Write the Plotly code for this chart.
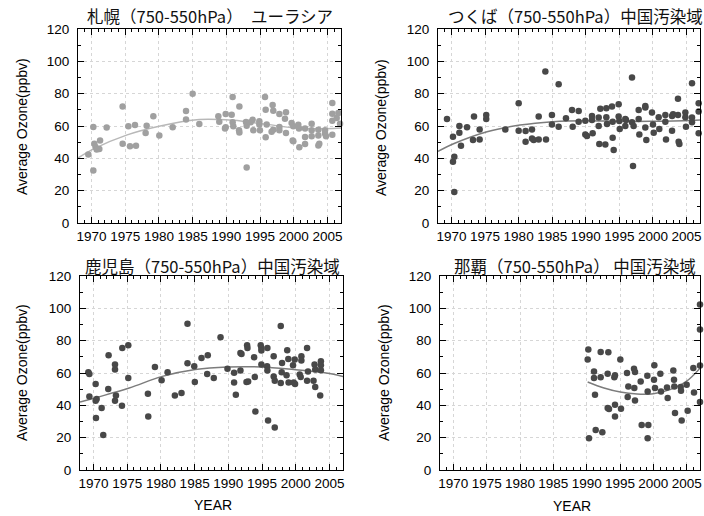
import plotly.graph_objects as go

# ---------------- data ----------------
titles = ["札幌（750-550hPa）　ユーラシア",
          "つくば（750-550hPa）中国汚染域",
          "鹿児島（750-550hPa）中国汚染域",
          "那覇（750-550hPa） 中国汚染域"]

year_ticks = [1970, 1975, 1980, 1985, 1990, 1995, 2000, 2005]
ozone_ticks = [0, 20, 40, 60, 80, 100, 120]

sapporo_year = [1969.53, 1970.27, 1970.27, 1970.42, 1970.6, 1970.77, 1971.16, 1971.27, 1972.25, 1974.62,
                1974.62, 1975.47, 1975.71, 1976.45, 1976.6, 1978.03, 1978.18, 1979.17, 1980.06, 1982.04,
                1984.02, 1984.02, 1985.0, 1985.99, 1988.81, 1988.95, 1989.9, 1989.9, 1989.8, 1990.79,
                1990.93, 1990.93, 1991.03, 1991.93, 1991.88, 1991.93, 1992.91, 1993.01, 1993.01, 1993.6,
                1993.9, 1994.0, 1994.89, 1994.89, 1994.98, 1995.73, 1995.83, 1995.83, 1995.98, 1996.71,
                1996.86, 1996.96, 1996.96, 1997.86, 1997.86, 1997.86, 1998.69, 1998.84, 1998.84, 1999.68,
                1999.83, 1999.93, 1999.93, 2000.67, 2000.77, 2000.82, 2001.67, 2001.67, 2001.67, 2002.65,
                2002.65, 2002.65, 2003.64, 2003.64, 2003.64, 2003.78, 2004.63, 2004.63, 2004.78, 2005.71,
                2005.71, 2005.71, 2005.71, 2006.36, 2006.61, 2006.86]
sapporo_o3 = [42.3, 59.4, 32.4, 49.0, 47.0, 45.5, 45.8, 51.0, 59.0, 72.0,
              49.0, 59.8, 47.4, 60.6, 47.8, 55.7, 60.2, 66.0, 54.2, 59.2,
              69.3, 64.0, 80.0, 61.2, 66.0, 62.7, 67.4, 59.2, 58.5, 67.0,
              78.0, 62.3, 59.8, 72.0, 57.3, 56.0, 62.5, 60.2, 34.4, 62.3,
              63.9, 57.3, 61.0, 63.0, 57.3, 78.0, 70.0, 53.0, 61.0, 56.5,
              73.0, 69.5, 57.7, 67.4, 59.4, 57.3, 64.5, 68.5, 55.7, 61.9,
              51.0, 50.5, 59.8, 60.8, 58.4, 46.8, 58.4, 53.2, 48.9, 61.4,
              57.3, 53.6, 57.7, 54.2, 48.0, 49.0, 57.3, 55.3, 53.6, 74.2,
              67.6, 63.3, 54.6, 65.0, 68.0, 61.4]
sapporo_fit_year = [1968, 1970.4, 1975.3, 1980.2, 1986.0, 1991.0, 1996.0, 2001.0, 2005.9, 2007]
sapporo_fit = [40.2, 46.0, 54.5, 60.0, 64.0, 63.5, 61.0, 58.5, 58.5, 58.8]

tsukuba_year = [1969.34, 1970.23, 1970.23, 1970.43, 1970.43, 1971.18, 1971.18, 1971.42, 1972.32, 1973.21,
                1973.36, 1974.2, 1974.2, 1975.18, 1975.18, 1978.02, 1980.01, 1980.01, 1981.04, 1981.04,
                1981.99, 1981.99, 1982.24, 1982.99, 1982.99, 1983.98, 1984.08, 1984.96, 1984.96, 1985.96,
                1985.96, 1987.05, 1987.95, 1988.05, 1988.94, 1988.94, 1989.93, 1989.93, 1990.18, 1990.92,
                1990.92, 1991.02, 1991.92, 1991.92, 1992.01, 1992.16, 1992.91, 1993.06, 1993.06, 1993.16,
                1993.9, 1994.0, 1994.0, 1994.15, 1994.89, 1994.89, 1994.99, 1995.05, 1995.88, 1995.88,
                1995.98, 1996.88, 1996.88, 1997.03, 1997.12, 1997.87, 1997.87, 1997.97, 1998.86, 1998.86,
                1998.86, 1999.01, 1999.85, 2000.0, 2000.11, 2000.85, 2000.94, 2001.84, 2001.84, 2001.94,
                2002.84, 2002.84, 2002.99, 2003.72, 2003.72, 2003.82, 2003.93, 2004.82, 2004.82, 2004.91,
                2005.81, 2005.81, 2005.81, 2006.8, 2006.8, 2006.8]
tsukuba_o3 = [64.3, 53.4, 37.9, 41.0, 19.2, 60.0, 55.9, 47.8, 59.2, 51.3,
              65.8, 57.9, 51.7, 66.8, 64.3, 57.9, 74.0, 57.1, 56.9, 50.3,
              57.9, 52.3, 51.3, 65.8, 51.7, 93.7, 51.7, 66.8, 61.0, 85.9,
              59.6, 64.8, 69.9, 59.6, 69.3, 62.7, 63.3, 54.8, 53.8, 66.2,
              63.7, 55.5, 65.2, 60.0, 48.8, 70.6, 48.6, 71.0, 65.4, 61.2,
              72.0, 62.7, 52.8, 45.1, 73.5, 65.8, 63.1, 58.1, 64.3, 60.0,
              63.7, 90.0, 62.3, 35.2, 60.0, 69.9, 64.3, 54.8, 72.4, 71.4,
              59.0, 51.3, 68.3, 61.0, 55.9, 65.4, 58.1, 66.8, 62.7, 51.7,
              66.2, 57.1, 67.2, 76.8, 66.8, 50.3, 48.8, 68.3, 65.4, 59.6,
              86.5, 65.2, 62.3, 74.0, 68.9, 55.5]
tsukuba_fit_year = [1968, 1970.4, 1975.3, 1980.2, 1985.1, 1989.9, 1994.8, 1999.7, 2004.6, 2007]
tsukuba_fit = [44.3, 49.2, 56.5, 60.6, 62.7, 63.3, 62.9, 62.9, 63.3, 63.7]

kagoshima_year = [1969.24, 1969.39, 1969.39, 1970.32, 1970.32, 1970.47, 1970.37, 1971.21, 1971.45, 1972.24,
                  1972.19, 1973.19, 1973.19, 1973.19, 1973.33, 1974.27, 1974.22, 1975.16, 1975.16, 1978.07,
                  1978.12, 1979.11, 1980.1, 1980.99, 1982.07, 1983.05, 1983.94, 1983.94, 1984.94, 1985.03,
                  1986.02, 1986.95, 1986.86, 1987.84, 1988.84, 1989.87, 1990.85, 1990.85, 1991.11, 1991.79,
                  1991.95, 1991.79, 1992.78, 1992.83, 1992.69, 1992.93, 1993.82, 1993.92, 1994.01, 1994.8,
                  1994.9, 1994.9, 1994.9, 1995.79, 1995.74, 1995.79, 1995.89, 1996.72, 1996.72, 1996.88,
                  1996.88, 1997.77, 1997.77, 1997.91, 1997.96, 1998.63, 1998.73, 1998.89, 1998.93, 1999.59,
                  1999.69, 1999.84, 1999.89, 2000.58, 2000.73, 2000.83, 2000.83, 2001.67, 2001.67, 2001.81,
                  2002.63, 2002.78, 2002.88, 2002.88, 2003.72, 2003.72, 2003.72, 2003.62]
kagoshima_o3 = [60.4, 59.4, 45.5, 53.2, 42.8, 43.9, 32.1, 38.3, 21.7, 71.0,
                50.1, 62.1, 65.2, 42.8, 46.1, 75.5, 39.7, 77.2, 56.9, 47.2,
                33.1, 63.7, 55.5, 60.4, 46.1, 47.6, 90.4, 66.0, 64.1, 54.4,
                69.3, 71.0, 59.4, 56.9, 82.1, 62.7, 60.2, 54.2, 46.6, 72.4,
                71.8, 61.5, 77.2, 75.5, 54.4, 54.8, 69.7, 57.5, 36.2, 77.2,
                75.5, 73.9, 65.2, 75.5, 64.1, 61.5, 30.6, 70.3, 57.9, 55.2,
                26.3, 89.0, 53.8, 60.4, 66.2, 58.6, 74.1, 68.7, 54.2, 64.8,
                54.2, 68.3, 53.2, 59.0, 57.5, 70.3, 67.7, 75.5, 55.2, 61.0,
                55.2, 65.2, 62.1, 51.3, 67.2, 64.8, 61.7, 46.1]
kagoshima_fit_year = [1968, 1970.5, 1975.3, 1980.2, 1985.1, 1989.9, 1994.8, 1999.7, 2004.5, 2007]
kagoshima_fit = [42.0, 44.9, 50.7, 57.9, 62.1, 63.7, 63.7, 62.1, 60.0, 57.9]

naha_year = [1990.15, 1990.25, 1990.35, 1991.1, 1991.1, 1991.25, 1991.35, 1992.1, 1992.1, 1992.35,
             1993.25, 1993.15, 1993.15, 1993.35, 1994.15, 1994.25, 1994.25, 1994.25, 1995.05, 1995.15,
             1996.05, 1996.25, 1996.15, 1997.1, 1997.25, 1997.15, 1997.25, 1998.1, 1998.25, 1999.1,
             1999.15, 1999.25, 1999.15, 2000.1, 2000.15, 2000.25, 2001.05, 2001.15, 2002.05, 2002.15,
             2003.0, 2003.1, 2003.15, 2003.25, 2004.1, 2004.15, 2004.25, 2005.0, 2005.15, 2006.0,
             2006.1, 2007.0, 2007.0, 2007.0, 2007.0]
naha_o3 = [68.3, 74.5, 19.7, 61.0, 56.9, 46.6, 24.8, 73.0, 57.3, 23.4,
           72.8, 59.6, 38.3, 37.7, 57.3, 58.6, 40.3, 33.1, 68.3, 37.9,
           60.0, 51.7, 45.1, 62.7, 60.6, 50.7, 43.0, 54.8, 27.9, 58.3,
           48.6, 27.9, 19.7, 55.9, 64.8, 50.7, 59.6, 48.6, 51.1, 44.5,
           61.5, 55.9, 51.7, 35.2, 51.3, 49.0, 30.6, 52.8, 36.6, 63.1,
           48.0, 102.4, 86.9, 64.6, 42.0]
naha_fit_year = [1990.15, 1992.6, 1995.05, 1997.55, 2000.0, 2002.5, 2004.95, 2007]
naha_fit = [54.4, 50.7, 48.2, 47.0, 47.2, 49.7, 54.8, 63.0]

# ---------------- layout ----------------
W, H = 704, 516
# plot boxes in pixels: (left, right, top, bottom)
boxes = [(78, 341, 29, 223), (438, 700, 29, 223), (80, 343, 276, 470), (440, 700, 276, 470)]
title_pos = [(210, 16), (575, 16), (212, 265.5), (575, 265.5)]
ylab_pos = [(22, 127), (381, 127), (22, 373), (384, 373)]
year_pos = [(213, 505), (572, 506)]

panels = [
    (sapporo_year, sapporo_o3, sapporo_fit_year, sapporo_fit, "#a0a0a0", "#b8b8b8"),
    (tsukuba_year, tsukuba_o3, tsukuba_fit_year, tsukuba_fit, "#484848", "#7c7c7c"),
    (kagoshima_year, kagoshima_o3, kagoshima_fit_year, kagoshima_fit, "#484848", "#7c7c7c"),
    (naha_year, naha_o3, naha_fit_year, naha_fit, "#484848", "#7c7c7c"),
]

FONT = "Liberation Sans, Arial, sans-serif"
fig = go.Figure()
layout = dict(width=W, height=H, margin=dict(l=0, r=0, t=0, b=0, autoexpand=False),
              paper_bgcolor="white", plot_bgcolor="white", showlegend=False,
              font=dict(family=FONT, color="black"))
annotations = []
for i, (xs, ys, fx, fy, mcol, lcol) in enumerate(panels):
    n = "" if i == 0 else str(i + 1)
    l, r, t, b = boxes[i]
    fig.add_trace(go.Scatter(x=fx, y=fy, mode="lines", line=dict(color=lcol, width=1.5, shape="spline"),
                             xaxis="x" + n, yaxis="y" + n, hoverinfo="skip"))
    fig.add_trace(go.Scatter(x=xs, y=ys, mode="markers", cliponaxis=False,
                             marker=dict(color=mcol, size=6.5, line=dict(width=0)),
                             xaxis="x" + n, yaxis="y" + n))
    common = dict(showline=True, linecolor="black", linewidth=1, mirror="ticks",
                  ticks="inside", ticklen=6, tickcolor="black", tickwidth=1, automargin=False,
                  showgrid=True, gridcolor="#d6d6d6", griddash="dot", gridwidth=1,
                  zeroline=False, tickfont=dict(size=13.5, color="black", family=FONT))
    layout["xaxis" + n] = dict(common, domain=[l / W, r / W], anchor="y" + n,
                               range=[1968, 2007], tickmode="array", tickvals=year_ticks,
                               ticklabelstandoff=1,
                               minor=dict(tickmode="linear", tick0=1968, dtick=1, ticks="inside",
                                          ticklen=3, tickcolor="black", showgrid=False))
    layout["yaxis" + n] = dict(common, domain=[1 - b / H, 1 - t / H], anchor="x" + n,
                               range=[0, 120], tickmode="array", tickvals=ozone_ticks,
                               ticklabelstandoff=5,
                               minor=dict(tickmode="linear", tick0=0, dtick=10, ticks="inside",
                                          ticklen=3, tickcolor="black", showgrid=False))
    tx, ty = title_pos[i]
    annotations.append(dict(text=titles[i], x=tx / W, y=1 - ty / H, xref="paper", yref="paper",
                            xanchor="center", yanchor="middle", showarrow=False,
                            font=dict(family="Noto Sans CJK JP", size=16.5, color="#111")))
    ax, ay = ylab_pos[i]
    annotations.append(dict(text="Average Ozone(ppbv)", x=ax / W, y=1 - ay / H, xref="paper",
                            yref="paper", xanchor="center", yanchor="middle", showarrow=False,
                            textangle=-90, font=dict(size=14, color="black")))
for (yx, yy) in year_pos:
    annotations.append(dict(text="YEAR", x=yx / W, y=1 - yy / H, xref="paper", yref="paper",
                            xanchor="center", yanchor="middle", showarrow=False,
                            font=dict(size=14, color="black")))
layout["annotations"] = annotations
fig.update_layout(**layout)
fig.write_html("out.html")
